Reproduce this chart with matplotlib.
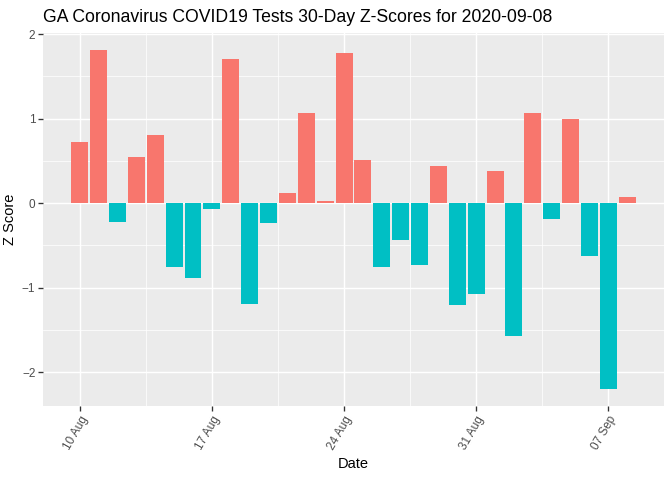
import matplotlib
matplotlib.use('Agg')
import matplotlib.pyplot as plt
import matplotlib.dates as mdates
from matplotlib.ticker import MultipleLocator
import numpy as np
import pandas as pd

plt.rcParams['font.family'] = ['Liberation Sans', 'DejaVu Sans']

start_date = '2020-08-10'
z_scores = [0.72, 1.81, -0.22, 0.54, 0.80, -0.75, -0.89, -0.07, 1.71, -1.19,
            -0.24, 0.12, 1.07, 0.02, 1.78, 0.51, -0.75, -0.44, -0.73, 0.44,
            -1.20, -1.07, 0.38, -1.57, 1.07, -0.19, 1.00, -0.63, -2.20, 0.07]
tick_dates = ['2020-08-10', '2020-08-17', '2020-08-24', '2020-08-31', '2020-09-07']

dates = pd.date_range(start_date, periods=len(z_scores), freq='D')
x = mdates.date2num(dates)
z = np.array(z_scores)
colors = np.where(z >= 0, '#F8766D', '#00BFC4')

fig = plt.figure(figsize=(7, 5), dpi=96)
ax = fig.add_axes([0.064, 0.154, 0.924, 0.777])
ax.set_facecolor('#EBEBEB')
ax.bar(x, z, width=0.9, color=colors, zorder=3)

# ggplot-like limits (5% expansion)
lo, hi = x[0] - 0.45, x[-1] + 0.45
pad = 0.05 * (hi - lo)
ax.set_xlim(lo - pad, hi + pad)
ymin, ymax = min(0, z.min()), max(0, z.max())
ypad = 0.05 * (ymax - ymin)
ax.set_ylim(ymin - ypad, ymax + ypad)

ticks = mdates.date2num(pd.to_datetime(tick_dates))
ax.set_xticks(ticks)
ax.set_xticklabels([d.strftime('%d %b') for d in pd.to_datetime(tick_dates)],
                   rotation=60, ha='right', rotation_mode='anchor')
ax.set_xticks((ticks[:-1] + ticks[1:]) / 2, minor=True)
extra = [ticks[0] - 3.5, ticks[-1] + 3.5]
ax.yaxis.set_major_locator(MultipleLocator(1))
ax.yaxis.set_minor_locator(MultipleLocator(0.5))

ax.grid(which='major', color='white', linewidth=1.1, zorder=0)
ax.grid(which='minor', color='white', linewidth=0.55, zorder=0)
for xv in extra:
    ax.axvline(xv, color='white', linewidth=0.55, zorder=0)
ax.set_axisbelow(True)
for s in ax.spines.values():
    s.set_visible(False)

ax.tick_params(which='major', length=3.7, width=1.0, color='#333333',
               labelcolor='#4D4D4D', labelsize=8.8, pad=2)
ax.tick_params(which='minor', length=0)

ax.set_xlabel('Date', fontsize=11, labelpad=4)
ax.set_ylabel('Z Score', fontsize=11, labelpad=4)
fig.text(0.064, 0.955, 'GA Coronavirus COVID19 Tests 30-Day Z-Scores for 2020-09-08',
         fontsize=13.2, ha='left', va='baseline')

fig.savefig('out.png', dpi=96)
